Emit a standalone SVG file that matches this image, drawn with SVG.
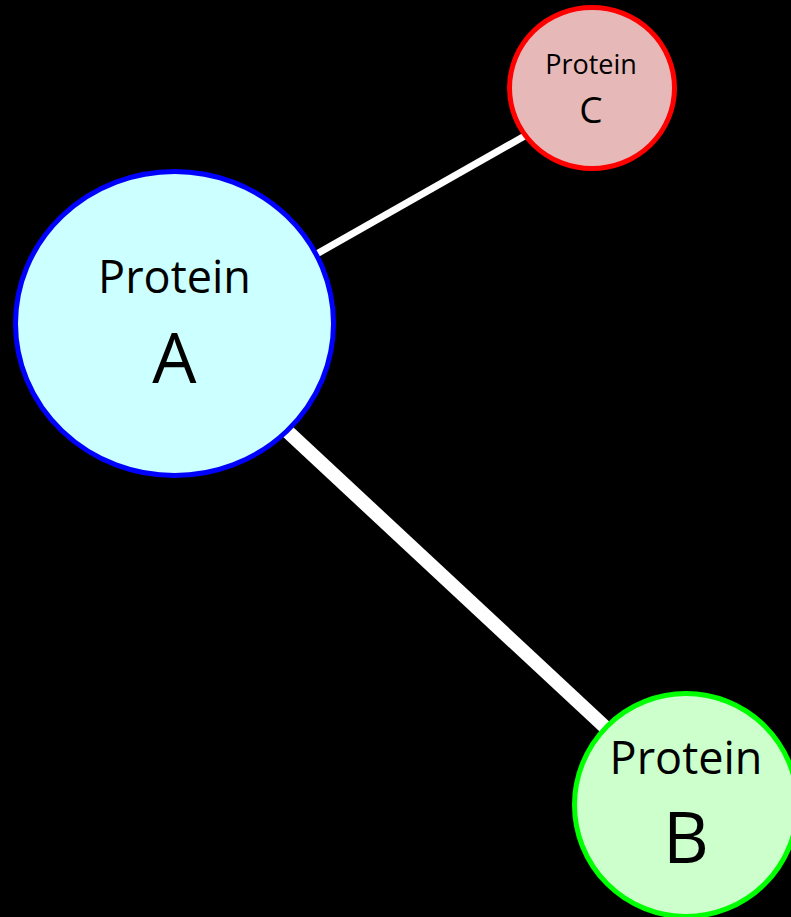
<svg xmlns="http://www.w3.org/2000/svg" width="791" height="917" viewBox="0 0 791 917">
<style>
.lbl{font-family:"Open Sans","Noto Sans","Liberation Sans",sans-serif;fill:#000;text-anchor:middle}
.edge{stroke:#fff;stroke-linecap:butt}
</style>
<rect width="791" height="917" fill="#000"/>
<g id="connectors">
<line class="edge" x1="300" y1="263.4" x2="540" y2="127.3" stroke-width="7"/>
<line class="edge" x1="270" y1="415.2" x2="620" y2="741" stroke-width="14"/>
</g>
<g id="protein-a">
<ellipse cx="174.5" cy="323.5" rx="159" ry="152" fill="#CCFFFF" stroke="#0000FF" stroke-width="5"/>
<text class="lbl" x="174.5" y="293" font-size="45">Protein</text>
<text class="lbl" x="174.5" y="383" font-size="70">A</text>
</g>
<g id="protein-c">
<ellipse cx="592" cy="88" rx="82.5" ry="80.5" fill="#E6B8B7" stroke="#FF0000" stroke-width="5"/>
<text class="lbl" x="591" y="74" font-size="27">Protein</text>
<text class="lbl" x="591" y="123" font-size="37">C</text>
</g>
<g id="protein-b">
<ellipse cx="686" cy="805" rx="111.5" ry="111.5" fill="#CCFFCC" stroke="#00FF00" stroke-width="5"/>
<text class="lbl" x="686" y="774" font-size="45">Protein</text>
<text class="lbl" x="686" y="863" font-size="71">B</text>
</g>
</svg>
